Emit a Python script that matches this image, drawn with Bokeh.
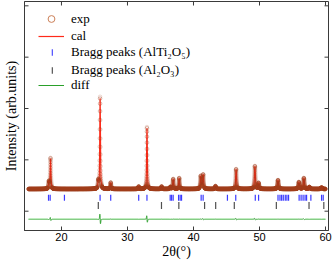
import numpy as np
from bokeh.plotting import figure
from bokeh.models import (Range1d, LinearAxis, FixedTicker, Legend, LegendItem,
                          ColumnDataSource)
from bokeh.embed import file_html
from bokeh.resources import INLINE

# ---------------- data ----------------
two_theta_start = 15.0
two_theta_end = 60.0
two_theta_step = 0.01

background = 432.0          # flat background of the observed pattern
diff_offset = -156.0        # vertical offset of the difference curve

# reflections: observed position, calculated position, observed height, calculated height, FWHM
peak_pos = [18.10, 18.34, 25.58, 25.85, 27.46, 31.70, 32.95, 35.17, 36.50, 36.92,
            37.83, 41.10, 41.46, 43.33, 46.45, 49.30, 49.86, 52.80, 55.97, 56.72,
            57.55, 59.40]
peak_pos_cal = [18.10, 18.345, 25.58, 25.855, 27.46, 31.70, 32.955, 35.17, 36.50, 36.92,
                37.83, 41.10, 41.465, 43.33, 46.455, 49.305, 49.86, 52.80, 55.97, 56.725,
                57.55, 59.40]
peak_obs = [140, 600, 150, 1792, 127, 50, 1207, 50, 40, 195,
            214, 253, 282, 58, 390, 448, 117, 175, 136, 214,
            40, 30]
peak_cal = [146, 585, 156, 1760, 124, 51, 1185, 49, 41, 191,
            210, 249, 277, 57, 383, 440, 115, 172, 134, 210,
            41, 31]
peak_fwhm = [0.16, 0.14, 0.14, 0.13, 0.14, 0.14, 0.13, 0.15, 0.16, 0.16,
             0.16, 0.17, 0.17, 0.17, 0.17, 0.18, 0.18, 0.20, 0.20, 0.20,
             0.20, 0.22]

bragg_alti2o5 = [18.04, 18.29, 20.45, 25.85, 27.46, 31.70, 32.95, 36.47, 36.68,
                 36.92, 37.74, 37.98, 38.19, 41.16, 41.46, 45.14, 46.40, 49.36,
                 49.86, 52.80, 53.10, 53.35, 53.60, 53.90, 54.15, 54.40, 56.00,
                 56.30, 56.60, 56.90, 57.13, 57.78, 59.40, 59.65]
bragg_al2o3 = [25.58, 35.15, 37.78, 41.68, 43.36, 46.18, 52.55, 57.50, 59.74]
bragg_alti2o5_level = 261.0
bragg_al2o3_level = 111.0

y_ticks = [0, 1000, 2000, 3000, 4000]
x_ticks = [20, 30, 40, 50, 60]

X_START, X_END = 14.4, 60.45
Y_START, Y_END = -376, 4084


def pseudo_voigt(x, pos, h, w, eta=0.5):
    d = (x - pos) / w
    g = np.exp(-4.0 * np.log(2.0) * d * d)
    lo = 1.0 / (1.0 + 4.0 * d * d)
    return h * (eta * lo + (1.0 - eta) * g)


tt = np.arange(two_theta_start, two_theta_end + 1e-9, two_theta_step)
obs = np.full_like(tt, background)
cal = np.full_like(tt, background)
for po, pc, ho, hc, w in zip(peak_pos, peak_pos_cal, peak_obs, peak_cal, peak_fwhm):
    obs += pseudo_voigt(tt, po, ho, w)
    cal += pseudo_voigt(tt, pc, hc, w * 1.02)
diff = obs - cal + diff_offset

src = ColumnDataSource(dict(x=tt, obs=obs, cal=cal, diff=diff))

# ---------------- figure ----------------
SERIF = "Liberation Serif"
SANS = "Liberation Sans"
AX = "#3a3a3a"

p = figure(width=332, height=262, output_backend="svg", toolbar_location=None,
           x_range=Range1d(X_START, X_END), y_range=Range1d(Y_START, Y_END),
           min_border_left=23, min_border_right=4, min_border_top=1,
           min_border_bottom=32, x_axis_location=None, y_axis_location=None)
p.grid.visible = False
p.outline_line_color = AX
p.outline_line_width = 1
p.background_fill_color = "white"
p.border_fill_color = "white"

bottom = LinearAxis(axis_label="2θ(°)")
bottom.ticker = FixedTicker(ticks=x_ticks, minor_ticks=[])
bottom.major_tick_in = 4
bottom.major_tick_out = 0
bottom.minor_tick_in = 0
bottom.minor_tick_out = 0
bottom.axis_line_color = AX
bottom.major_tick_line_color = AX
bottom.major_label_text_font = SANS
bottom.major_label_text_font_size = "11px"
bottom.major_label_text_color = "black"
bottom.major_label_standoff = 2
bottom.axis_label_text_font = SERIF
bottom.axis_label_text_font_size = "14px"
bottom.axis_label_text_font_style = "normal"
bottom.axis_label_text_color = "black"
bottom.axis_label_standoff = 0
p.add_layout(bottom, "below")

left = LinearAxis(axis_label="Intensity (arb.units)")
left.ticker = FixedTicker(ticks=[], minor_ticks=[])
left.major_tick_in = 0
left.major_tick_out = 0
left.axis_line_color = AX
left.axis_label_text_font = SERIF
left.axis_label_text_font_size = "14px"
left.axis_label_text_font_style = "normal"
left.axis_label_text_color = "black"
left.axis_label_standoff = 6
p.add_layout(left, "left")

# inward tick marks on the left, right and top frame edges
p.scatter(x=[X_START] * len(y_ticks), y=y_ticks, marker="dash", size=8,
          line_color=AX, line_width=1)
p.scatter(x=[X_END] * len(y_ticks), y=y_ticks, marker="dash", size=8,
          line_color=AX, line_width=1)
p.scatter(x=x_ticks, y=[Y_END] * len(x_ticks), marker="dash", angle=np.pi / 2,
          size=8, line_color=AX, line_width=1)

# ---------------- glyphs ----------------
EXP_C = "#a03c18"
CAL_C = "#ff2a1a"
BLUE = "#3a3aff"
GRAY = "#505050"
GREEN = "#2aa02a"

r_diff = p.line("x", "diff", source=src, line_color=GREEN, line_width=1)
r_cal = p.line("x", "cal", source=src, line_color=CAL_C, line_width=1.2)
r_exp = p.scatter("x", "obs", source=src, marker="circle", size=3.5,
                  fill_color=None, line_color=EXP_C, line_alpha=0.2, line_width=1)

r_b1 = p.scatter(x=bragg_alti2o5, y=[bragg_alti2o5_level] * len(bragg_alti2o5),
                 marker="dash", angle=np.pi / 2, size=6, line_color=BLUE,
                 line_width=1.2)
r_b2 = p.scatter(x=bragg_al2o3, y=[bragg_al2o3_level] * len(bragg_al2o3),
                 marker="dash", angle=np.pi / 2, size=7, line_color=GRAY,
                 line_width=1.2)

# legend-only glyphs (placed outside the visible range)
r_exp_leg = p.scatter(x=[0], y=[0], marker="circle", fill_color=None,
                      line_color="#cc8058", line_width=1)
r_b1_leg = p.vbar(x=[0], width=0.1, top=[0], bottom=[0], fill_color="#5a5aff",
                  line_color=None)
r_b2_leg = p.vbar(x=[0], width=0.1, top=[0], bottom=[0], fill_color="#606060",
                  line_color=None)


def add_legend(label, renderer, loc, gw, gh, standoff):
    lg = Legend(items=[LegendItem(label=label, renderers=[renderer])], location=loc)
    lg.border_line_color = None
    lg.background_fill_alpha = 0
    lg.margin = 0
    lg.padding = 0
    lg.spacing = 0
    lg.glyph_width = gw
    lg.glyph_height = gh
    lg.label_height = gh
    lg.label_standoff = standoff
    lg.label_text_font = SERIF
    lg.label_text_font_size = "13px"
    lg.label_text_color = "black"
    p.add_layout(lg, "center")


add_legend("exp", r_exp_leg, (14, 203), 26, 17, 7)
add_legend("cal", r_cal, (14, 186), 26, 16, 7)
add_legend("Bragg peaks (AlTi₂O₅)", r_b1_leg, (27, 170), 2, 8, 18)
add_legend("Bragg peaks (Al₂O₃)", r_b2_leg, (27, 152), 2, 8, 18)
add_legend("diff", r_diff, (14, 137), 26, 16, 7)

open("out.html", "w").write(file_html(p, INLINE))
